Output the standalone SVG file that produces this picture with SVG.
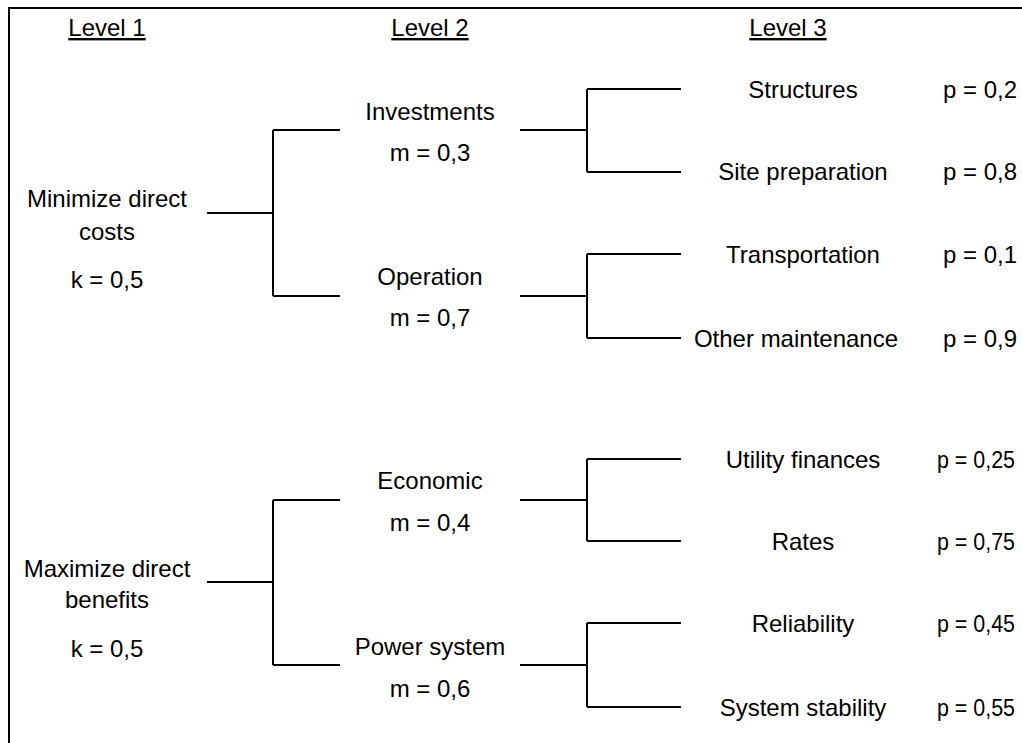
<svg xmlns="http://www.w3.org/2000/svg" width="1022" height="743" viewBox="0 0 1022 743">
  <style>
    text { font-family: "Liberation Sans", Arial, sans-serif; font-size: 24px; fill: #000; }
    .c { text-anchor: middle; }
    .hdr { text-decoration: underline; }
    .ln { stroke: #000; stroke-width: 2; fill: none; }
  </style>
  <rect x="0" y="0" width="1022" height="743" fill="#fff"/>
  <!-- frame (right and bottom edges fall outside the canvas) -->
  <rect x="9" y="8" width="1100" height="800" fill="none" stroke="#000" stroke-width="2"/>

  <g id="headers">
    <text class="c hdr" x="107" y="36">Level 1</text>
    <text class="c hdr" x="430" y="36">Level 2</text>
    <text class="c hdr" x="788" y="36">Level 3</text>
  </g>

  <g id="connectors">
    <!-- level 1 to level 2 -->
    <path class="ln" d="M207 213 H273 M273 130 V296 M273 130 H340 M273 296 H340"/>
    <path class="ln" d="M207 582 H273 M273 500 V665 M273 500 H340 M273 665 H340"/>
    <!-- level 2 to level 3 -->
    <path class="ln" d="M520 130 H587 M587 89 V172 M587 89 H681 M587 172 H681"/>
    <path class="ln" d="M520 296 H587 M587 254 V338 M587 254 H681 M587 338 H681"/>
    <path class="ln" d="M520 500 H587 M587 459 V541 M587 459 H681 M587 541 H681"/>
    <path class="ln" d="M520 665 H587 M587 623 V707 M587 623 H681 M587 707 H681"/>
  </g>

  <g id="minimize-costs">
    <text class="c" x="107" y="207">Minimize direct</text>
    <text class="c" x="107" y="240">costs</text>
    <text class="c" x="107" y="288">k = 0,5</text>
  </g>
  <g id="maximize-benefits">
    <text class="c" x="107" y="577">Maximize direct</text>
    <text class="c" x="107" y="608">benefits</text>
    <text class="c" x="107" y="657">k = 0,5</text>
  </g>

  <g id="investments">
    <text class="c" x="430" y="120">Investments</text>
    <text class="c" x="430" y="161">m = 0,3</text>
  </g>
  <g id="operation">
    <text class="c" x="430" y="285">Operation</text>
    <text class="c" x="430" y="326">m = 0,7</text>
  </g>
  <g id="economic">
    <text class="c" x="430" y="489">Economic</text>
    <text class="c" x="430" y="531">m = 0,4</text>
  </g>
  <g id="power-system">
    <text class="c" x="430" y="655">Power system</text>
    <text class="c" x="430" y="697">m = 0,6</text>
  </g>

  <g id="structures">
    <text class="c" x="803" y="98">Structures</text>
    <text x="943" y="98">p = 0,2</text>
  </g>
  <g id="site-preparation">
    <text class="c" x="803" y="180">Site preparation</text>
    <text x="943" y="180">p = 0,8</text>
  </g>
  <g id="transportation">
    <text class="c" x="803" y="263">Transportation</text>
    <text x="943" y="263">p = 0,1</text>
  </g>
  <g id="other-maintenance">
    <text class="c" x="796" y="347">Other maintenance</text>
    <text x="943" y="347">p = 0,9</text>
  </g>
  <g id="utility-finances">
    <text class="c" x="803" y="468">Utility finances</text>
    <text x="937" y="468" textLength="78" lengthAdjust="spacingAndGlyphs">p = 0,25</text>
  </g>
  <g id="rates">
    <text class="c" x="803" y="550">Rates</text>
    <text x="937" y="550" textLength="78" lengthAdjust="spacingAndGlyphs">p = 0,75</text>
  </g>
  <g id="reliability">
    <text class="c" x="803" y="632">Reliability</text>
    <text x="937" y="632" textLength="78" lengthAdjust="spacingAndGlyphs">p = 0,45</text>
  </g>
  <g id="system-stability">
    <text class="c" x="803" y="716">System stability</text>
    <text x="937" y="716" textLength="78" lengthAdjust="spacingAndGlyphs">p = 0,55</text>
  </g>
</svg>
